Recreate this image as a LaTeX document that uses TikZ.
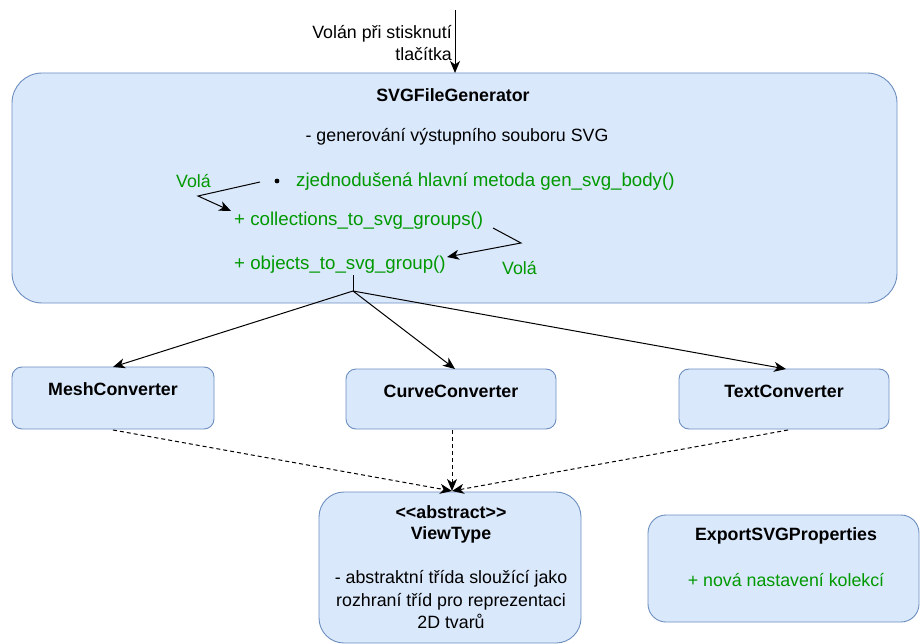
\documentclass[tikz,border=0pt]{standalone}
\usepackage{fontspec}
\setmainfont{Liberation Sans}
\usetikzlibrary{arrows.meta}
\definecolor{boxfill}{HTML}{DAE8FC}
\definecolor{boxline}{HTML}{6C8EBF}
\definecolor{grn}{HTML}{009900}
\begin{document}
\begin{tikzpicture}[x=1pt,y=-1pt,
  box/.style={draw=boxline,fill=boxfill,line width=0.9pt},
  txt/.style={inner sep=0pt,font=\fontsize{17.8}{22.5}\selectfont},
  btxt/.style={txt,font=\fontsize{17.8}{21}\selectfont\bfseries},
  gtxt/.style={txt,text=grn},
  gbig/.style={gtxt,font=\fontsize{18.7}{22.5}\selectfont},
  arr/.style={-{Stealth[length=12pt,width=10pt,inset=3.5pt]},line width=1pt},
  darr/.style={arr,dashed,dash pattern=on 4pt off 3pt}]
\useasboundingbox (0,0) rectangle (920,644);
% big box
\draw[box,rounded corners=30pt] (12,73) rectangle (897,303);
\node[btxt] (gen) at (453,95) {SVGFileGenerator};
\node[txt] (desc) at (457,137) {- generování výstupního souboru SVG};
\fill (277,181) circle (2.4pt);
\node[gbig,anchor=west] (main) at (296,182) {zjednodušená hlavní metoda gen\_svg\_body()};
\node[gtxt,anchor=west] (vola1) at (176,181) {Volá};
\node[gbig,anchor=west] (coll) at (234,221) {+ collections\_to\_svg\_groups()};
\node[gbig,anchor=west] (obj) at (234,265) {+ objects\_to\_svg\_group()};
\node[gtxt,anchor=west] (vola2) at (502,268) {Volá};
% top arrow
\coordinate (topstart) at (455,10);
\coordinate (topend) at (455,73);
\draw[arr] (topstart) -- (topend);
\node[txt,anchor=east,align=right] (call) at (452,43) {Volán při stisknutí\\tlačítka};
% Volá arrows
\coordinate (v1a) at (260,182);
\coordinate (v1b) at (198,196);
\coordinate (v1c) at (231,211);
\draw[arr] (v1a) -- (v1b) -- (v1c);
\coordinate (v2a) at (493,228);
\coordinate (v2b) at (521,243);
\coordinate (v2c) at (447,257);
\draw[arr] (v2a) -- (v2b) -- (v2c);
% converters
\draw[box,rounded corners=10pt] (12,367) rectangle (214,429);
\node[btxt] (mesh) at (113,389) {MeshConverter};
\draw[box,rounded corners=10pt] (346,369) rectangle (556,429);
\node[btxt] (curve) at (451,391) {CurveConverter};
\draw[box,rounded corners=10pt] (679,369) rectangle (889,429);
\node[btxt] (text) at (784,391) {TextConverter};
\coordinate (meshtop) at (113,367);
\coordinate (curvetop) at (455,369);
\coordinate (texttop) at (786,369);
\coordinate (meshbot) at (113,430);
\coordinate (curvebot) at (452,430);
\coordinate (textbot) at (788,430);
% branch
\coordinate (bs) at (353,275);
\coordinate (bp) at (353,291);
\draw[line width=1pt] (bs) -- (bp);
\draw[arr] (bp) -- (meshtop);
\draw[arr] (bp) -- (curvetop);
\draw[arr] (bp) -- (texttop);
% ViewType
\draw[box,rounded corners=25pt] (319,492) rectangle (581,643);
\node[btxt,align=center] (vt) at (451,524) {{<}{<}abstract{>}{>}\\ViewType};
\node[txt,align=center] (vtd) at (451,600) {- abstraktní třída sloužící jako\\rozhraní tříd pro reprezentaci\\2D tvarů};
\coordinate (vtin) at (452,491);
\draw[darr] (meshbot) -- (vtin);
\draw[darr] (curvebot) -- (vtin);
\draw[darr] (textbot) -- (vtin);
% Export
\draw[box,rounded corners=18pt] (648,515) rectangle (919,622);
\node[btxt] (exp) at (786,536) {ExportSVGProperties};
\node[gtxt] (expd) at (786,580) {+ nová nastavení kolekcí};
\end{tikzpicture}
\end{document}
